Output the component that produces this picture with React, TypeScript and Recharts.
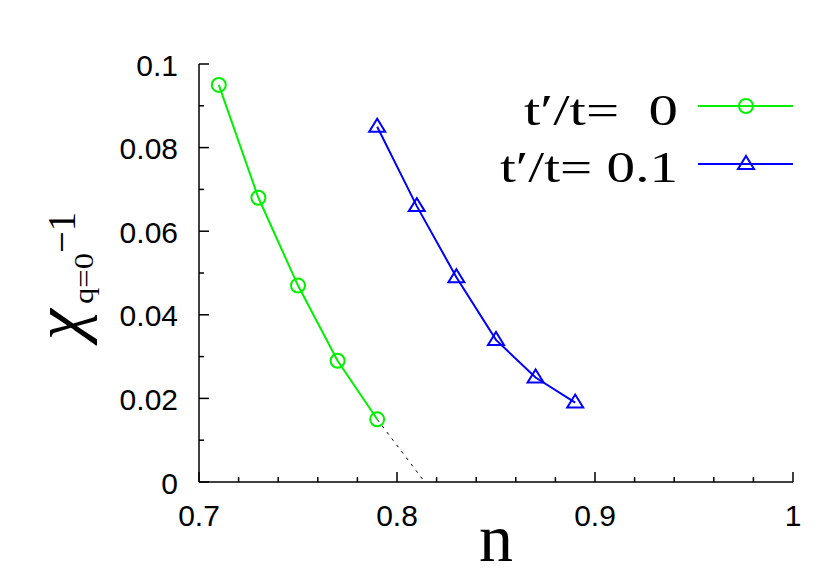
import React from 'react';
import { LineChart, Line, XAxis, YAxis, Legend } from 'recharts';

// t'/t = 0 series
const nValues0 = [0.71, 0.73, 0.75, 0.77, 0.79];
const chiValues0 = [0.095, 0.068, 0.047, 0.029, 0.015];
// t'/t = 0.1 series
const nValues1 = [0.79, 0.81, 0.83, 0.85, 0.87, 0.89];
const chiValues1 = [0.085, 0.066, 0.049, 0.034, 0.025, 0.019];
// dotted extrapolation of the t'/t = 0 curve
const nExtrap = [0.79, 0.814];
const chiExtrap = [0.015, 0];

const seriesNames = ['t\u2032/t=  0', 't\u2032/t= 0.1'];

const xTicks = [0.7, 0.72, 0.74, 0.76, 0.78, 0.8, 0.82, 0.84, 0.86, 0.88, 0.9, 0.92, 0.94, 0.96, 0.98, 1.0];
const xMajorTicks = [0.7, 0.8, 0.9, 1.0];
const xTickLabels = ['0.7', '0.8', '0.9', '1'];
const yTicks = [0, 0.01, 0.02, 0.03, 0.04, 0.05, 0.06, 0.07, 0.08, 0.09, 0.1];
const yMajorTicks = [0, 0.02, 0.04, 0.06, 0.08, 0.1];
const yTickLabels = ['0', '0.02', '0.04', '0.06', '0.08', '0.1'];

const data0 = nValues0.map((n, i) => ({ n, chi: chiValues0[i] }));
const data1 = nValues1.map((n, i) => ({ n, chi: chiValues1[i] }));
const dataExtrap = nExtrap.map((n, i) => ({ n, chi: chiExtrap[i] }));

const GREEN = '#00f000';
const BLUE = '#0000ff';
const SANS = '"Liberation Sans", Arial, Helvetica, sans-serif';
const SERIF = '"Liberation Serif", "Times New Roman", Times, serif';

const majorIndex = (list: number[], v: number) => list.findIndex((m) => Math.abs(m - v) < 1e-9);

const XTick = (props: any) => {
  const { x, y, payload } = props;
  const idx = majorIndex(xMajorTicks, payload.value);
  const major = idx >= 0;
  return (
    <g>
      <line x1={x} x2={x} y1={y} y2={y - (major ? 10 : 5)} stroke="#000" strokeWidth={1.5} />
      {major && (
        <text x={x} y={y + 33} textAnchor="middle" dominantBaseline="central" fontSize={30} fontFamily={SANS} fill="#000">
          {xTickLabels[idx]}
        </text>
      )}
    </g>
  );
};

const YTick = (props: any) => {
  const { x, y, payload } = props;
  const idx = majorIndex(yMajorTicks, payload.value);
  const major = idx >= 0;
  return (
    <g>
      <line x1={x} x2={x + (major ? 10 : 5)} y1={y} y2={y} stroke="#000" strokeWidth={1.5} />
      {major && (
        <text x={x - 21} y={y + 1} textAnchor="end" dominantBaseline="central" fontSize={30} fontFamily={SANS} fill="#000">
          {yTickLabels[idx]}
        </text>
      )}
    </g>
  );
};

const Triangle = (props: any) => {
  const { cx, cy, stroke } = props;
  if (cx == null || cy == null) return null;
  return (
    <polygon
      points={`${cx - 8},${cy + 5} ${cx + 8},${cy + 5} ${cx},${cy - 8}`}
      fill="none"
      stroke={stroke}
      strokeWidth={2}
    />
  );
};

const YLabel = (props: any) => {
  const vb = props.viewBox || { x: 0, y: 0 };
  const ox = vb.x;
  return (
    <g fill="#000" fontFamily={SERIF}>
      <text transform={`translate(${ox + 82},${340}) rotate(-90)`} fontSize={70} fontStyle="italic">
        χ
      </text>
      <text
        transform={`translate(${ox + 93},${304}) rotate(-90)`}
        fontSize={28}
        textLength={51}
        lengthAdjust="spacingAndGlyphs"
      >
        q=0
      </text>
      <text
        transform={`translate(${ox + 75},${253}) rotate(-90)`}
        fontSize={40}
        textLength={41}
        lengthAdjust="spacingAndGlyphs"
      >
        −1
      </text>
    </g>
  );
};

const XLabel = (props: any) => {
  const vb = props.viewBox || { x: 0, y: 0, width: 0 };
  return (
    <text x={496} y={vb.y + 79} textAnchor="middle" fontSize={68} fontFamily={SERIF} fill="#000">
      n
    </text>
  );
};

const LegendContent = (props: any) => {
  const payload = (props.payload || []).filter((p: any) => p.type !== 'none');
  const rows = [
    { baseline: 45, lineY: 26, length: 154 },
    { baseline: 102, lineY: 84, length: 178 },
  ];
  return (
    <svg width={340} height={120} style={{ display: 'block', overflow: 'visible' }}>
      {payload.map((entry: any, i: number) => {
        const r = rows[i];
        if (!r) return null;
        const color = entry.color;
        return (
          <g key={i}>
            <text
              x={198}
              y={r.baseline}
              textAnchor="end"
              fontSize={45}
              fontFamily={SERIF}
              fill="#000"
              textLength={r.length}
              lengthAdjust="spacingAndGlyphs"
              style={{ whiteSpace: 'pre' }}
            >
              {entry.value}
            </text>
            <line x1={218} x2={313} y1={r.lineY} y2={r.lineY} stroke={color} strokeWidth={2} />
            {i === 0 ? (
              <circle cx={266} cy={r.lineY} r={7} fill="none" stroke={color} strokeWidth={2} />
            ) : (
              <Triangle cx={266} cy={r.lineY} stroke={color} />
            )}
          </g>
        );
      })}
    </svg>
  );
};

export default function App() {
  return (
    <div style={{ position: 'absolute', left: 0, top: 0, width: 830, height: 582, background: '#fff' }}>
      <LineChart width={830} height={582} margin={{ top: 64, right: 37, bottom: 0, left: 0 }}>
        <XAxis
          dataKey="n"
          type="number"
          domain={[0.7, 1]}
          ticks={xTicks}
          interval={0}
          allowDataOverflow
          height={100}
          tickSize={0}
          tickMargin={0}
          tickLine={false}
          axisLine={{ stroke: '#000', strokeWidth: 1.5 }}
          tick={<XTick />}
          label={<XLabel />}
        />
        <YAxis
          type="number"
          domain={[0, 0.1]}
          ticks={yTicks}
          interval={0}
          allowDataOverflow
          width={199}
          tickSize={0}
          tickMargin={0}
          tickLine={false}
          axisLine={{ stroke: '#000', strokeWidth: 1.5 }}
          tick={<YTick />}
          label={<YLabel />}
        />
        <Line
          data={dataExtrap}
          dataKey="chi"
          stroke="#000"
          strokeWidth={1}
          strokeDasharray="3 5"
          dot={false}
          legendType="none"
          isAnimationActive={false}
        />
        <Line
          data={data0}
          dataKey="chi"
          name={seriesNames[0]}
          stroke={GREEN}
          strokeWidth={2}
          dot={{ r: 7, stroke: GREEN, strokeWidth: 2, fill: 'none' }}
          isAnimationActive={false}
        />
        <Line
          data={data1}
          dataKey="chi"
          name={seriesNames[1]}
          stroke={BLUE}
          strokeWidth={2}
          dot={<Triangle stroke={BLUE} />}
          isAnimationActive={false}
        />
        <Legend
          layout="horizontal"
          verticalAlign="middle"
          align="center"
          content={<LegendContent />}
          wrapperStyle={{ position: 'absolute', left: 480, top: 80, width: 340, height: 120, bottom: 'auto' }}
        />
      </LineChart>
    </div>
  );
}
